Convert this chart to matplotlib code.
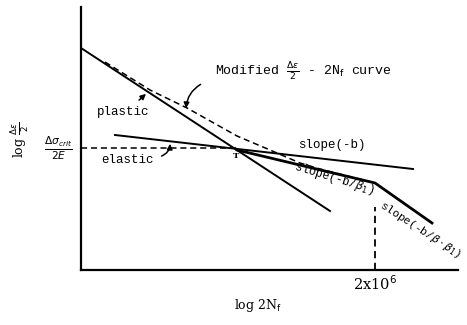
import matplotlib
matplotlib.use("Agg")
import matplotlib.pyplot as plt

# schematic data, arbitrary log units (x = log 2Nf, y = log de/2)
plastic_x = [0.0, 4.98]
plastic_y = [4.44, 1.18]

elastic_x = [0.68, 6.64]
elastic_y = [2.70, 2.02]

# bilinear modified curve: slope(-b/b1) then slope(-b/(b.b1))
modified_x = [3.12, 5.88, 7.02]
modified_y = [2.40, 1.74, 0.94]

# dashed smooth modified curve
smooth_x = [0.48, 1.38, 2.12, 3.12, 3.78, 4.38, 4.78, 5.88]
smooth_y = [4.16, 3.60, 3.24, 2.68, 2.40, 2.14, 2.02, 1.74]

crit_y = 2.44     # d_sigma_crit / 2E level
cross_x = 3.12    # transition point T
knee_x = 5.88     # 2x10^6 cycles
knee_top = 1.26

MONO = "Liberation Mono"
SERIF = "DejaVu Serif"

fig = plt.figure(figsize=(4.67, 3.25), dpi=100)
ax = fig.add_axes([81 / 467, 55 / 325, 377 / 467, 263 / 325])
ax.set_xlim(0, 7.54)
ax.set_ylim(0, 5.26)
for s in ("top", "right"):
    ax.spines[s].set_visible(False)
for s in ("left", "bottom"):
    ax.spines[s].set_linewidth(1.6)
ax.set_xticks([])
ax.set_yticks([])

ax.plot(plastic_x, plastic_y, color="black", lw=1.4)
ax.plot(elastic_x, elastic_y, color="black", lw=1.4)
ax.plot(modified_x, modified_y, color="black", lw=2.0)
ax.plot(smooth_x, smooth_y, color="black", lw=1.1, dashes=(4, 2.5))
ax.plot([0, cross_x], [crit_y, crit_y], color="black", lw=1.1, dashes=(4, 2.5))
ax.plot([knee_x, knee_x], [0, knee_top], color="black", lw=1.3, dashes=(4, 2.5))

ax.text(0.84, 3.16, "plastic", family=MONO, fontsize=9, ha="center", va="center")
ax.annotate("", xy=(1.34, 3.56), xytext=(1.12, 3.36),
            arrowprops=dict(arrowstyle="-|>", color="black", lw=1.1, mutation_scale=8))
ax.text(0.92, 2.20, "elastic", family=MONO, fontsize=9, ha="center", va="center")
ax.annotate("", xy=(1.78, 2.58), xytext=(1.56, 2.26),
            arrowprops=dict(arrowstyle="-|>", color="black", lw=1.1, mutation_scale=8,
                            connectionstyle="arc3,rad=0.4"))
ax.text(2.68, 3.96, r"Modified $\frac{\Delta\epsilon}{2}$ - 2N$_{\rm f}$ curve",
        family=MONO, fontsize=9.5, ha="left", va="center")
ax.annotate("", xy=(2.10, 3.18), xytext=(2.44, 3.74),
            arrowprops=dict(arrowstyle="-|>", color="black", lw=1.1, mutation_scale=8,
                            connectionstyle="arc3,rad=0.3"))

ax.text(5.02, 2.50, "slope(-b)", family=MONO, fontsize=9, ha="center", va="center")
ax.text(5.06, 1.83, r"slope(-b/$\beta_1$)", family=MONO, fontsize=8.5,
        ha="center", va="center", rotation=-17)
ax.text(6.78, 0.80, r"slope(-b/$\beta\cdot\beta_1$)", family=MONO, fontsize=8,
        ha="center", va="center", rotation=-33)
ax.text(cross_x - 0.02, 2.28, "T", family=SERIF, fontsize=6, fontweight="bold",
        ha="center", va="center")

ax.text(knee_x, -0.28, r"2x10$^6$", family=SERIF, fontsize=10.5, ha="center", va="center")
ax.text(3.54, -0.70, r"log 2N$_{\rm f}$", family=SERIF, fontsize=9, ha="center", va="center")
ax.text(-1.22, 2.60, r"log $\frac{\Delta\epsilon}{2}$", family=SERIF, fontsize=9,
        rotation=90, ha="center", va="center")
ax.text(-0.46, 2.44, r"$\frac{\Delta\sigma_{crit}}{2E}$", fontsize=11,
        ha="center", va="center")

fig.savefig("out.png", dpi=100)
